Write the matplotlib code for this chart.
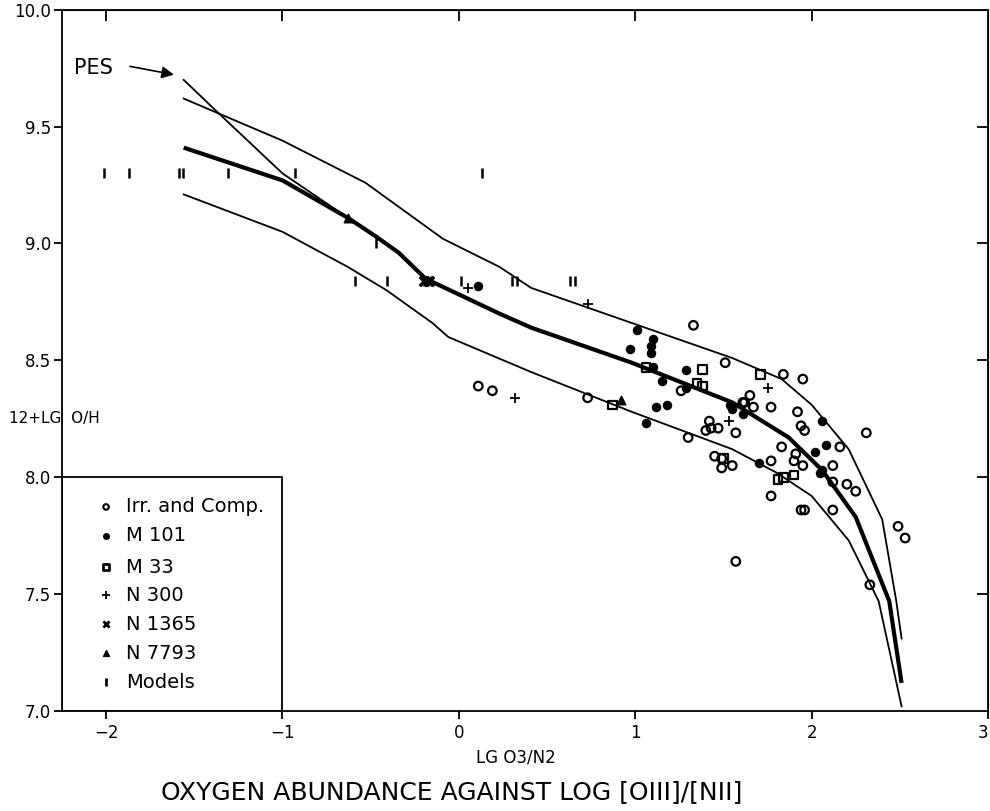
import numpy as np
import matplotlib
matplotlib.use("Agg")
import matplotlib.pyplot as plt
from matplotlib.patches import Rectangle

# curves: upper / middle (thick) / lower envelope and the PES line
upper_x = [-1.56, -1.0, -0.53, -0.09, 0.23, 0.41, 0.98, 1.55, 1.83, 2.0, 2.21, 2.40, 2.48, 2.51]
upper_y = [9.62, 9.44, 9.26, 9.02, 8.90, 8.81, 8.66, 8.51, 8.42, 8.31, 8.12, 7.82, 7.47, 7.31]
mid_x = [-1.56, -1.0, -0.63, -0.47, -0.34, -0.19, 0.23, 0.41, 0.98, 1.55, 1.87, 2.06, 2.25, 2.44, 2.51]
mid_y = [9.41, 9.27, 9.11, 9.03, 8.96, 8.85, 8.70, 8.64, 8.49, 8.32, 8.17, 8.03, 7.83, 7.47, 7.12]
lower_x = [-1.56, -1.0, -0.63, -0.41, -0.15, -0.06, 0.41, 0.98, 1.55, 1.80, 2.0, 2.21, 2.38, 2.51]
lower_y = [9.21, 9.05, 8.90, 8.80, 8.66, 8.60, 8.45, 8.28, 8.12, 8.02, 7.92, 7.73, 7.47, 7.02]
pes_x = [-1.56, -1.38, -1.0, -0.63]
pes_y = [9.70, 9.57, 9.30, 9.11]

# observed HII regions
irr_x = [0.11, 0.19, 0.73, 1.33, 1.26, 1.51, 1.30, 1.61, 1.42, 1.40, 1.43, 1.47, 1.57, 1.45, 1.49,
         1.55, 1.49, 1.84, 1.95, 1.65, 1.62, 1.67, 1.77, 1.92, 1.94, 1.96, 2.31, 2.16, 1.83, 1.91,
         1.90, 1.95, 1.77, 2.12, 2.12, 2.20, 2.25, 1.77, 1.94, 1.96, 2.12, 2.49, 2.53, 1.57, 2.33]
irr_y = [8.39, 8.37, 8.34, 8.65, 8.37, 8.49, 8.17, 8.32, 8.24, 8.20, 8.21, 8.21, 8.19, 8.09, 8.08,
         8.05, 8.04, 8.44, 8.42, 8.35, 8.32, 8.30, 8.30, 8.28, 8.22, 8.20, 8.19, 8.13, 8.13, 8.10,
         8.07, 8.05, 8.07, 8.05, 7.98, 7.97, 7.94, 7.92, 7.86, 7.86, 7.86, 7.79, 7.74, 7.64, 7.54]
m33_x = [0.87, 1.06, 1.38, 1.35, 1.38, 1.71, 1.81, 1.84, 1.90, 1.50]
m33_y = [8.31, 8.47, 8.46, 8.40, 8.39, 8.44, 7.99, 8.00, 8.01, 8.08]
m101_x = [0.11, 1.01, 1.10, 0.97, 1.09, 1.09, 1.10, 1.15, 1.29, 1.29, 1.12, 1.18, 1.06, 1.54,
          1.55, 1.61, 2.06, 2.08, 2.02, 1.70, 2.05, 2.06]
m101_y = [8.82, 8.63, 8.59, 8.55, 8.56, 8.53, 8.47, 8.41, 8.46, 8.38, 8.30, 8.31, 8.23, 8.31,
          8.29, 8.27, 8.24, 8.14, 8.11, 8.06, 8.02, 8.03]
n300_x = [0.05, 0.32, 0.73, 1.75, 1.53]
n300_y = [8.81, 8.34, 8.74, 8.38, 8.24]
n1365_x = [-0.20, -0.17]
n1365_y = [8.84, 8.84]
n7793_x = [0.92, -0.63]
n7793_y = [8.33, 9.11]
model_x = [-2.01, -1.87, -1.585, -1.565, -1.31, -0.93, 0.13,
           -0.59, -0.41, -0.20, -0.18, -0.16, 0.01, 0.30, 0.33, 0.63, 0.66, -0.47]
model_y = [9.3, 9.3, 9.3, 9.3, 9.3, 9.3, 9.3,
           8.84, 8.84, 8.84, 8.84, 8.84, 8.84, 8.84, 8.84, 8.84, 8.84, 9.0]

legend_labels = ["Irr. and Comp.", "M 101", "M 33", "N 300", "N 1365", "N 7793", "Models"]
legend_y = [7.873, 7.749, 7.616, 7.496, 7.372, 7.248, 7.124]

fig = plt.figure(figsize=(9.9, 8.11), dpi=100)
ax = fig.add_axes([0.0626, 0.1233, 0.9374 - 0.002, 0.8647])
ax.set_xlim(-2.25, 3.0)
ax.set_ylim(7.0, 10.0)

k = "black"
ax.plot(upper_x, upper_y, color=k, lw=1.3)
ax.plot(mid_x, mid_y, color=k, lw=3.0, solid_capstyle="butt")
ax.plot(lower_x, lower_y, color=k, lw=1.3)
ax.plot(pes_x, pes_y, color=k, lw=1.3)

ms = 38
ax.scatter(irr_x, irr_y, s=ms, facecolors="none", edgecolors=k, linewidths=1.6, zorder=3)
ax.scatter(m33_x, m33_y, s=ms, marker="s", facecolors="none", edgecolors=k, linewidths=1.6, zorder=3)
ax.scatter(m101_x, m101_y, s=34, color=k, zorder=3)
ax.scatter(n300_x, n300_y, s=45, marker="+", color=k, linewidths=1.3, zorder=3)
ax.scatter(n1365_x, n1365_y, s=45, marker="x", color=k, linewidths=2.5, zorder=3)
ax.scatter(n7793_x, n7793_y, s=38, marker="^", color=k, zorder=3)
ax.scatter(model_x, model_y, s=60, marker="|", color=k, linewidths=1.8, zorder=3)

# legend box drawn in data space like the original
ax.add_patch(Rectangle((-2.25, 7.0), 1.25, 1.0, fill=False, edgecolor=k, lw=1.3, zorder=4))
leg_markers = [dict(marker="o", s=16, facecolors="none", edgecolors=k, linewidths=1.5),
               dict(marker="o", s=16, color=k),
               dict(marker="s", s=16, facecolors="none", edgecolors=k, linewidths=2),
               dict(marker="+", s=30, color=k, linewidths=1.3),
               dict(marker="x", s=20, color=k, linewidths=2),
               dict(marker="^", s=18, color=k),
               dict(marker="|", s=40, color=k, linewidths=2)]
for lab, yy, mk in zip(legend_labels, legend_y, leg_markers):
    ax.scatter([-2.0], [yy], zorder=5, **mk)
    ax.text(-1.885, yy, lab, fontsize=14, va="center", ha="left", zorder=5)

# PES annotation
ax.annotate("", xy=(-1.6, 9.72), xytext=(-1.88, 9.76),
            arrowprops=dict(arrowstyle="-|>", color=k, lw=1.2, mutation_scale=18))
ax.text(-2.18, 9.75, "PES", fontsize=15, va="center", ha="left")

# axes styling
for sp in ax.spines.values():
    sp.set_linewidth(1.3)
ax.set_xticks([-2, -1, 0, 1, 2, 3])
ax.set_xticklabels(["\u22122", "\u22121", "0", "1", "2", "3"])
ax.get_xticklabels()[-1].set_horizontalalignment("right")
ax.set_yticks([7.0, 7.5, 8.0, 8.5, 9.0, 9.5, 10.0])
ax.set_yticklabels(["7.0", "7.5", "8.0", "8.5", "9.0", "9.5", "10.0"])
ax.tick_params(axis="both", direction="out", length=6, width=1.3, labelsize=12)
ax.tick_params(axis="y", pad=2)

top = ax.secondary_xaxis("top")
top.set_xticks([-2, -1, 0, 1, 2])
top.tick_params(direction="in", length=8, width=1.3, labeltop=False)
right = ax.secondary_yaxis("right")
right.set_yticks([7.5, 8.0, 8.5, 9.0, 9.5])
right.tick_params(direction="in", length=8, width=1.3, labelright=False)

fig.text(0.055, 1 - 418 / 811, "12+LG  O/H", fontsize=11, ha="center", va="center")
fig.text(516 / 990, 1 - 757 / 811, "LG O3/N2", fontsize=12, ha="center", va="center")
fig.text(452 / 990, 1 - 792 / 811, "OXYGEN ABUNDANCE AGAINST LOG [OIII]/[NII]",
         fontsize=18, ha="center", va="center")

fig.savefig("out.png", dpi=100)
